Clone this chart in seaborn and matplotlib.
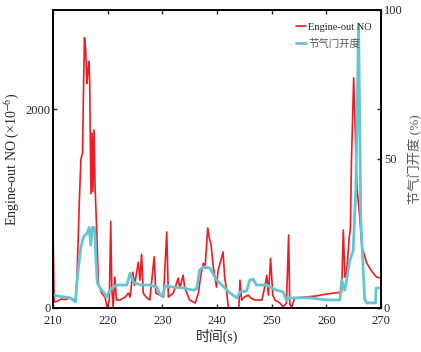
import numpy as np
import pandas as pd
import matplotlib
matplotlib.use("Agg")
import matplotlib.pyplot as plt
import seaborn as sns

# Engine-out NO (x10^-6)
no_time = [210.0, 210.2, 210.8, 211.5, 212.3, 213.0, 213.6, 214.1, 214.3, 214.5, 214.6, 214.8,
           215.1, 215.4, 215.6, 215.75, 215.95, 216.2, 216.4, 216.55, 216.7, 216.8, 216.95,
           217.15, 217.3, 217.5, 217.7, 218.0, 218.3, 218.9, 219.5, 219.9, 220.3, 220.55,
           220.75, 221.0, 221.3, 221.6, 222.2, 223.2, 223.8, 224.1, 224.6, 224.9, 225.6,
           225.9, 226.2, 226.5, 227.0, 227.7, 228.5, 228.8, 230.2, 230.8, 231.1, 232.0,
           232.9, 233.2, 233.8, 234.1, 235.0, 236.0, 236.6, 237.0, 237.5, 237.8, 238.3,
           238.6, 238.9, 239.3, 239.9, 240.2, 240.8, 241.1, 241.4, 241.7, 242.05, 242.5,
           244.0, 244.2, 244.5, 245.0, 245.7, 246.2, 246.9, 248.2, 248.8, 249.1, 249.4,
           249.8, 250.2, 250.6, 251.5, 252.1, 252.7, 253.1, 253.3, 253.6, 254.2, 256.0,
           258.0, 260.0, 262.8, 263.1, 263.4, 263.7, 264.2, 264.4, 264.6, 265.0, 265.6,
           266.1, 266.5, 267.4, 268.3, 269.2, 270.0]
no_vals = [780, 60, 70, 90, 85, 100, 90, 80, 200, 520, 700, 1060,
           1500, 1560, 2300, 2720, 2620, 2260, 2400, 2480, 2300, 1760, 1150,
           1760, 1170, 1790, 1200, 760, 250, 150, 110, 0, 80, 870,
           200, 10, 310, 80, 80, 110, 150, 110, 360, 230, 460,
           280, 540, 150, 110, 80, 515, 150, 110, 765, 110, 150,
           300, 200, 330, 200, 80, 50, 150, 320, 450, 400, 805,
           700, 640, 420, 210, 380, 500, 565, 310, 200, 10, 0,
           0, 280, 80, 110, 130, 100, 80, 80, 230, 330, 130,
           500, 130, 80, 50, 10, 50, 735, 50, 0, 100, 110,
           120, 140, 160, 785, 310, 350, 715, 800, 1490, 2316, 1220,
           915, 615, 450, 370, 310, 300]

# throttle opening (%)
thr_time = [210.0, 211.0, 212.0, 213.0, 213.8, 214.1, 214.4, 214.8, 215.1, 215.6, 216.2,
            216.6, 216.9, 217.2, 217.6, 217.8, 218.1, 218.6, 219.2, 219.8, 220.4, 221.6,
            223.5, 224.1, 224.7, 226.0, 227.7, 229.0, 229.6, 230.0, 230.5, 232.0, 233.8,
            235.7, 236.3, 236.8, 237.5, 238.7, 239.9, 240.5, 242.4, 243.6, 244.2, 245.4,
            246.0, 246.6, 247.2, 249.1, 249.7, 250.9, 252.1, 252.7, 253.3, 257.0, 260.0,
            262.5, 262.8, 263.4, 264.3, 264.9, 265.4, 265.9, 266.3, 267.0, 267.4, 269.0,
            269.1, 270.0]
thr_vals = [4.4, 4.0, 3.7, 3.5, 2.5, 2.0, 9.4, 16, 20.5, 24, 25,
            27, 21, 27, 27, 18, 8.4, 6.7, 5.4, 3.7, 6, 7.7,
            7.7, 11.7, 8.7, 7.7, 7.7, 7.0, 4.4, 4.0, 7.4, 7.0, 6.7,
            6.0, 6.5, 12.7, 13.8, 13.4, 9.4, 8.4, 5.0, 3.4, 5.4, 5.7,
            9.4, 9.7, 7.7, 7.7, 7.0, 6.0, 5.4, 2.7, 3.4, 3.4, 2.7,
            2.7, 9.4, 6.0, 16, 19, 40, 95, 30, 3, 1.7, 1.7,
            6.7, 6.7]

sns.set_style("ticks")
plt.rcParams['font.family'] = ['Liberation Serif', 'Noto Sans CJK SC']
plt.rcParams['mathtext.fontset'] = 'stix'
plt.rcParams['axes.unicode_minus'] = False

fig = plt.figure(figsize=(4.21, 3.52), dpi=100)
ax = fig.add_axes([0.126, 0.125, 0.779, 0.847])
ax2 = ax.twinx()

no_df = pd.DataFrame({'t': no_time, 'no': no_vals})
thr_df = pd.DataFrame({'t': thr_time, 'thr': thr_vals})

sns.lineplot(data=no_df, x='t', y='no', ax=ax, color='#ec1c24', linewidth=1.2,
             estimator=None, sort=False, label='Engine-out NO', legend=False)
sns.lineplot(data=thr_df, x='t', y='thr', ax=ax2, color='#63c6d2', linewidth=2.0,
             estimator=None, sort=False, label='节气门开度', legend=False)

ax.set_xlim(210, 270)
ax.set_ylim(0, 3000)
ax2.set_ylim(0, 100)
ax.set_xticks(range(210, 271, 10))
ax.set_yticks([0, 2000])
ax2.set_yticks([0, 50, 100])

ax.set_xlabel('时间(s)', fontsize=10, labelpad=1)
ax.set_ylabel('Engine-out NO (×10$^{-6}$)', fontsize=10, labelpad=2)
ax2.set_ylabel('节气门开度 (%)', fontsize=9.5, color='#555555', labelpad=4)

ax.tick_params(direction='in', labelsize=9, length=3, width=1, top=True, right=True, pad=2)
ax.tick_params(axis='x', pad=5)
ax2.tick_params(direction='in', labelsize=9, length=3, width=1, pad=2)
for a in (ax, ax2):
    for s in a.spines.values():
        s.set_linewidth(1.2)
        s.set_color('black')

h1, l1 = ax.get_legend_handles_labels()
h2, l2 = ax2.get_legend_handles_labels()
leg = ax2.legend(h1 + h2, l1 + l2, loc='upper right', bbox_to_anchor=(1.0, 0.99),
                 frameon=False, fontsize=7.5, handlelength=1.0, handletextpad=0.2,
                 borderaxespad=0.5, labelspacing=0.7)
leg.get_texts()[1].set_color('#555555')

fig.savefig('out.png', dpi=100)
